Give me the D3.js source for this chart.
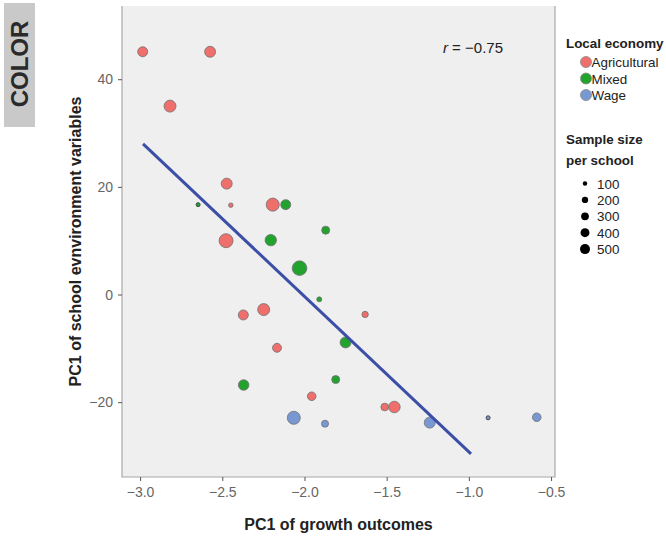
<!DOCTYPE html>
<html>
<head>
<meta charset="utf-8">
<script src="https://cdn.jsdelivr.net/npm/d3@7"></script>
<style>
  body { margin: 0; background: #fff; }
  svg text { font-family: "Liberation Sans", Arial, sans-serif; }
</style>
</head>
<body>
<div class="chart"></div>
<script>
// points: growth PC1, school env PC1, sample size, economy
const growth = [-2.984, -2.574, -2.818, -2.473, -2.448, -2.193, -2.477, -2.372, -2.248, -2.167, -1.956, -1.631, -1.512, -1.453,
  -2.647, -2.114, -2.205, -2.03, -1.871, -1.91, -1.75, -1.81, -2.37,
  -2.065, -1.875, -1.238, -0.883, -0.587]
const schoolEnv = [45.1, 45.1, 35.0, 20.6, 16.6, 16.7, 10.0, -3.8, -2.8, -9.9, -18.9, -3.7, -20.9, -20.9,
  16.7, 16.7, 10.1, 4.9, 11.95, -0.9, -8.9, -15.8, -16.8,
  -22.9, -24.0, -23.8, -22.9, -22.8]
const sampleSize = [500, 600, 720, 600, 100, 850, 980, 500, 720, 400, 370, 200, 290, 670,
  80, 500, 650, 1070, 320, 125, 600, 320, 560,
  850, 250, 600, 80, 370]
const economy = ['Agricultural', 'Agricultural', 'Agricultural', 'Agricultural', 'Agricultural', 'Agricultural', 'Agricultural',
  'Agricultural', 'Agricultural', 'Agricultural', 'Agricultural', 'Agricultural', 'Agricultural', 'Agricultural',
  'Mixed', 'Mixed', 'Mixed', 'Mixed', 'Mixed', 'Mixed', 'Mixed', 'Mixed', 'Mixed',
  'Wage', 'Wage', 'Wage', 'Wage', 'Wage']

const economies = ['Agricultural', 'Mixed', 'Wage']
const sizeLegend = [100, 200, 300, 400, 500]
const xTicks = [-3.0, -2.5, -2.0, -1.5, -1.0, -0.5]
const yTicks = [-20, 0, 20, 40]
// fitted line end points
const fitX = [-2.982, -0.987]
const fitY = [28.0, -29.6]
const rValue = '\u22120.75'

const width = 666
const height = 537
const panel = {left: 122, right: 555, top: 6, bottom: 477}

const points = growth.map((g, i) => ({x: g, y: schoolEnv[i], n: sampleSize[i], eco: economy[i]}))

const svg = d3.select('.chart').append('svg')
  .attr('width', width)
  .attr('height', height)

const x = d3.scaleLinear().domain([-3.11, -0.476]).range([panel.left, panel.right])
const y = d3.scaleLinear().domain([-33.9, 53.6]).range([panel.bottom, panel.top])
const r = d3.scaleSqrt().domain([0, 500]).range([0, 5])
const color = d3.scaleOrdinal().domain(economies).range(['#ee6f6b', '#22a32e', '#7898d4'])

// "COLOR" tab on the left
svg.append('rect')
  .attr('x', 4).attr('y', 3).attr('width', 31).attr('height', 124)
  .attr('fill', '#c9c9c9')
svg.append('text')
  .attr('transform', 'translate(28, 64) rotate(-90)')
  .attr('text-anchor', 'middle')
  .attr('font-size', 24).attr('font-weight', 'bold')
  .attr('fill', '#2a2a2a')
  .text('COLOR')

// panel
svg.append('rect')
  .attr('x', panel.left).attr('y', panel.top)
  .attr('width', panel.right - panel.left).attr('height', panel.bottom - panel.top)
  .attr('fill', '#efefef')
svg.append('path')
  .attr('d', `M${panel.left},${panel.top}V${panel.bottom}H${panel.right}V${panel.top}`)
  .attr('fill', 'none').attr('stroke', '#a8a8a8').attr('stroke-width', 1.2)

// axes
const xAxis = svg.append('g')
  .attr('transform', `translate(0, ${panel.bottom})`)
  .call(d3.axisBottom(x).tickValues(xTicks).tickFormat(d3.format('.1f')).tickSize(4).tickPadding(6))
const yAxis = svg.append('g')
  .attr('transform', `translate(${panel.left}, 0)`)
  .call(d3.axisLeft(y).tickValues(yTicks).tickSize(4).tickPadding(5))
;[xAxis, yAxis].forEach(a => {
  a.select('.domain').remove()
  a.selectAll('.tick line').attr('stroke', '#555')
  a.selectAll('.tick text').attr('fill', '#666').attr('font-size', 14)
    .attr('font-family', '"Liberation Sans Narrow", "Liberation Sans", Arial, sans-serif')
})

svg.append('text')
  .attr('x', (panel.left + panel.right) / 2).attr('y', 530)
  .attr('text-anchor', 'middle')
  .attr('font-size', 16).attr('font-weight', 'bold').attr('fill', '#222')
  .text('PC1 of growth outcomes')
svg.append('text')
  .attr('transform', `translate(81, ${(panel.top + panel.bottom) / 2}) rotate(-90)`)
  .attr('text-anchor', 'middle')
  .attr('font-size', 16).attr('font-weight', 'bold').attr('fill', '#222')
  .text('PC1 of school evnvironment variables')

// points
svg.append('g').selectAll('circle')
  .data(points)
  .enter()
  .append('circle')
  .attr('cx', d => x(d.x))
  .attr('cy', d => y(d.y))
  .attr('r', d => r(d.n))
  .attr('fill', d => color(d.eco))
  .attr('stroke', d => d.n < 100 ? '#444' : '#707070')
  .attr('stroke-width', d => d.n < 100 ? 1 : 0.8)

// fitted line
svg.append('line')
  .attr('x1', x(fitX[0])).attr('y1', y(fitY[0]))
  .attr('x2', x(fitX[1])).attr('y2', y(fitY[1]))
  .attr('stroke', '#3c4fa6').attr('stroke-width', 3)

const rLabel = svg.append('text')
  .attr('x', x(-0.975)).attr('y', y(44.9))
  .attr('text-anchor', 'middle')
  .attr('font-size', 15).attr('fill', '#222')
rLabel.append('tspan').attr('font-style', 'italic').text('r')
rLabel.append('tspan').text(' = ' + rValue)

// legends
const leg = svg.append('g')
leg.append('text')
  .attr('x', 566).attr('y', 48)
  .attr('font-size', 13.4).attr('font-weight', 'bold').attr('fill', '#222')
  .text('Local economy')
const ecoItems = leg.selectAll('.eco')
  .data(economies)
  .enter().append('g')
  .attr('transform', (d, i) => `translate(586, ${62 + i * 16.5})`)
ecoItems.append('circle')
  .attr('r', 5.5)
  .attr('fill', d => color(d))
  .attr('stroke', '#888').attr('stroke-width', 0.8)
ecoItems.append('text')
  .attr('x', 5.5).attr('y', 5)
  .attr('font-size', 13.4).attr('fill', '#222')
  .text(d => d)

leg.append('text')
  .attr('x', 566).attr('y', 144)
  .attr('font-size', 13.4).attr('font-weight', 'bold').attr('fill', '#222')
  .text('Sample size')
leg.append('text')
  .attr('x', 566).attr('y', 165)
  .attr('font-size', 13.4).attr('font-weight', 'bold').attr('fill', '#222')
  .text('per school')
const sizeItems = leg.selectAll('.size')
  .data(sizeLegend)
  .enter().append('g')
  .attr('transform', (d, i) => `translate(585, ${183.5 + i * 16.4})`)
sizeItems.append('circle')
  .attr('r', d => r(d))
  .attr('fill', '#000')
sizeItems.append('text')
  .attr('x', 12).attr('y', 5)
  .attr('font-size', 13.4).attr('fill', '#222')
  .text(d => d)
</script>
</body>
</html>
